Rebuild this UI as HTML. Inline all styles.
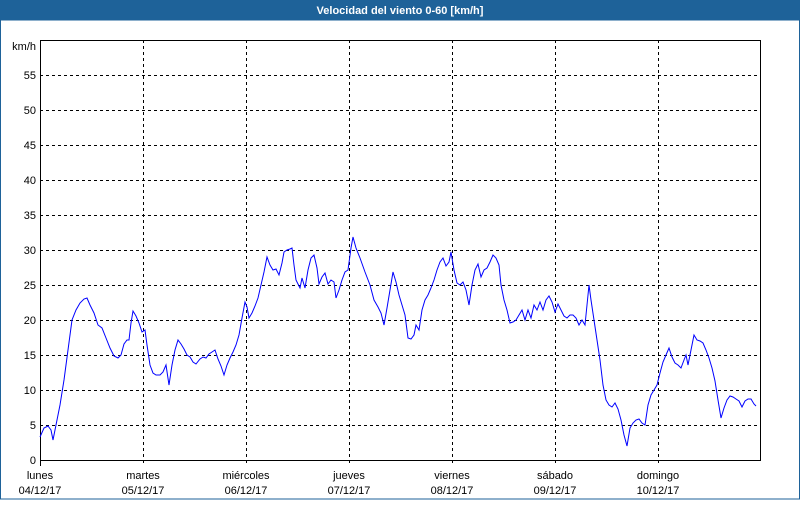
<!DOCTYPE html>
<html><head><meta charset="utf-8"><style>
body{margin:0;width:800px;height:500px;overflow:hidden;background:#fff;font-family:"Liberation Sans",sans-serif}
</style></head><body>
<svg width="800" height="500" xmlns="http://www.w3.org/2000/svg" font-family="Liberation Sans, sans-serif" font-size="11">
<rect x="0" y="0" width="800" height="500" fill="#fff"/>
<rect x="0" y="0" width="800" height="20" fill="#1e6299"/>
<rect x="0.5" y="20" width="799" height="479" fill="none" stroke="#1e6299" stroke-width="1"/>
<text x="400" y="14" text-anchor="middle" fill="#fff" font-weight="bold">Velocidad del viento 0-60 [km/h]</text>
<g stroke="#000" stroke-dasharray="3,3" stroke-width="1">
<line x1="40" x2="761" y1="75.5" y2="75.5"/><line x1="40" x2="761" y1="110.5" y2="110.5"/>
<line x1="40" x2="761" y1="145.5" y2="145.5"/><line x1="40" x2="761" y1="180.5" y2="180.5"/>
<line x1="40" x2="761" y1="215.5" y2="215.5"/><line x1="40" x2="761" y1="250.5" y2="250.5"/>
<line x1="40" x2="761" y1="285.5" y2="285.5"/><line x1="40" x2="761" y1="320.5" y2="320.5"/>
<line x1="40" x2="761" y1="355.5" y2="355.5"/><line x1="40" x2="761" y1="390.5" y2="390.5"/>
<line x1="40" x2="761" y1="425.5" y2="425.5"/>
<line x1="143.5" x2="143.5" y1="40" y2="466"/><line x1="246.5" x2="246.5" y1="40" y2="466"/>
<line x1="349.5" x2="349.5" y1="40" y2="466"/><line x1="452.5" x2="452.5" y1="40" y2="466"/>
<line x1="555.5" x2="555.5" y1="40" y2="466"/><line x1="658.5" x2="658.5" y1="40" y2="466"/>
</g>
<rect x="40.5" y="40.5" width="720" height="420" fill="none" stroke="#000" stroke-width="1"/>
<line x1="40.5" x2="40.5" y1="460" y2="466" stroke="#000"/>
<g text-anchor="end" fill="#000">
<text x="36" y="50">km/h</text>
<text x="36" y="79">55</text><text x="36" y="114">50</text><text x="36" y="149">45</text>
<text x="36" y="184">40</text><text x="36" y="219">35</text><text x="36" y="254">30</text>
<text x="36" y="289">25</text><text x="36" y="324">20</text><text x="36" y="359">15</text>
<text x="36" y="394">10</text><text x="36" y="429">5</text><text x="36" y="464">0</text>
</g>
<g text-anchor="middle" fill="#000">
<text x="40" y="479">lunes</text><text x="40" y="494">04/12/17</text>
<text x="143" y="479">martes</text><text x="143" y="494">05/12/17</text>
<text x="246" y="479">miércoles</text><text x="246" y="494">06/12/17</text>
<text x="349" y="479">jueves</text><text x="349" y="494">07/12/17</text>
<text x="452" y="479">viernes</text><text x="452" y="494">08/12/17</text>
<text x="555" y="479">sábado</text><text x="555" y="494">09/12/17</text>
<text x="658" y="479">domingo</text><text x="658" y="494">10/12/17</text>
</g>
<polyline fill="none" stroke="#0000ff" stroke-width="1" points="40,437 44,428 48,426 51,430 53,440 56,425 60,405 64,380 68,350 72,320 76,310 80,303 84,299 87,298 90,305 94,313 98,325 102,328 106,338 110,348 114,356 118,358 121,355 124,344 127,340 129,340 131,323 133,311 136,316 139,323 142,332 145,330 147,345 150,365 153,373 156,375 160,375 163,372 166,365 169,385 172,365 175,350 178,340 181,344 184,349 187,355 190,357 193,362 196,364 200,359 203,357 206,358 209,354 212,352 215,350 218,359 221,366 224,375 227,365 230,358 233,352 236,345 239,335 242,318 245,302 247,307 249,318 252,313 255,306 258,298 261,285 264,272 267,257 270,265 273,270 276,269 279,275 282,263 284,252 287,250 290,249 292,248 294,265 296,280 298,284 300,288 302,278 305,288 308,270 311,258 314,255 317,268 319,284 322,277 325,273 328,284 331,280 334,282 336,298 339,290 342,280 345,272 348,270 351,248 353,237 356,248 360,258 365,272 370,285 374,300 378,307 381,313 384,325 387,308 390,290 393,272 396,282 399,295 402,305 405,315 408,338 411,339 414,335 416,325 419,330 422,310 425,300 428,295 431,288 434,280 437,270 440,262 443,258 446,266 449,262 451,252 454,270 457,283 460,285 463,282 466,290 469,305 472,285 475,270 478,264 481,277 484,270 487,268 490,262 493,255 496,258 499,265 501,285 504,300 507,310 510,323 513,322 516,320 519,315 522,310 525,320 528,310 531,318 534,305 537,310 540,302 543,310 546,300 549,296 552,302 555,312 558,304 561,310 564,316 567,318 570,315 573,315 576,318 579,325 582,320 585,325 588,295 589,285 591,300 594,320 597,340 600,360 603,385 606,400 609,405 612,407 615,403 618,409 621,420 624,435 627,446 630,428 633,423 636,420 639,419 642,423 645,425 648,405 651,395 654,390 657,385 660,373 663,362 666,355 669,348 672,357 675,363 678,365 681,368 684,360 686,355 688,365 691,350 694,335 697,340 700,341 703,343 706,350 709,358 712,368 715,381 718,400 721,418 724,408 727,400 730,396 733,397 736,399 739,401 742,407 745,401 748,399 751,399 754,404 756,406"/>
</svg>
</body></html>
